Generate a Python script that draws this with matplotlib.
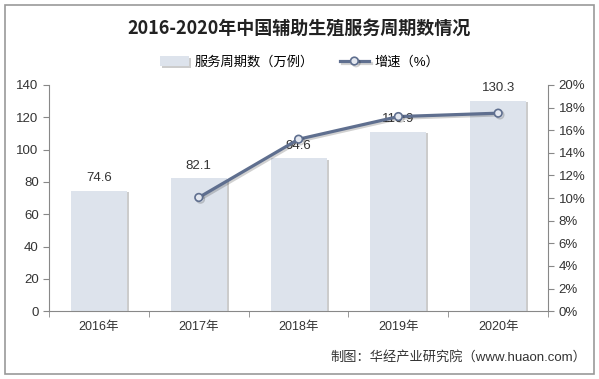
import numpy as np
import matplotlib
matplotlib.use('Agg')
import matplotlib.pyplot as plt
import matplotlib.patheffects as pe
from matplotlib.patches import Rectangle

plt.rcParams['font.family'] = ['Liberation Sans', 'Noto Sans CJK SC', 'DejaVu Sans']

years = ['2016年', '2017年', '2018年', '2019年', '2020年']
cycles = [74.6, 82.1, 94.6, 110.9, 130.3]
growth_years = ['2017年', '2018年', '2019年', '2020年']
growth = [10.05, 15.2, 17.2, 17.5]

bar_color = '#dde3ec'
line_color = '#5f6f8f'
axis_color = '#888888'

fig = plt.figure(figsize=(5.99, 3.79), dpi=100)
fig.patches.append(Rectangle((0.009, 0.013), 0.982, 0.974, transform=fig.transFigure,
                             fill=False, edgecolor='#999999', linewidth=1.2))

ax = fig.add_axes([0.082, 0.179, 0.833, 0.597])
x = np.arange(len(years))
bars = ax.bar(x, cycles, width=0.56, color=bar_color, zorder=2,
              path_effects=[pe.SimplePatchShadow(offset=(1.5, -1), shadow_rgbFace='#9a9a9a', alpha=0.5), pe.Normal()],
              label='服务周期数（万例）')
for xi, v in zip(x, cycles):
    ax.text(xi, v + 4, f'{v}', ha='center', va='bottom', fontsize=9.5, color='#333333', zorder=5)

ax.set_xlim(-0.5, len(years) - 0.5)
ax.set_ylim(0, 140)
ax.set_yticks(range(0, 141, 20))
ax.set_xticks(x)
ax.set_xticklabels(years, fontsize=9, color='#333333')
ax.set_xticks(np.arange(-0.5, len(years)), minor=True)
ax.tick_params(axis='x', which='major', length=0, pad=7)
ax.tick_params(axis='x', which='minor', length=4, color=axis_color)
ax.tick_params(axis='y', length=4, color=axis_color, labelsize=9.5, labelcolor='#333333')
for s in ['top', 'right']:
    ax.spines[s].set_visible(False)
for s in ['left', 'bottom']:
    ax.spines[s].set_color(axis_color)

ax2 = ax.twinx()
gx = [years.index(y) for y in growth_years]
ax2.plot(gx, growth, color=line_color, linewidth=2.3, marker='o', markersize=5.5,
         markerfacecolor='#e4e8f0', markeredgecolor=line_color, markeredgewidth=1.2, zorder=4,
         path_effects=[pe.SimpleLineShadow(offset=(1.2, -1.2), alpha=0.18), pe.Normal()],
         label='增速（%）')
ax2.set_ylim(0, 20)
ax2.set_yticks(range(0, 21, 2))
ax2.set_yticklabels([f'{v}%' for v in range(0, 21, 2)])
ax2.tick_params(axis='y', length=4, color=axis_color, labelsize=9.5, labelcolor='#333333')
for s in ['top', 'left', 'bottom']:
    ax2.spines[s].set_visible(False)
ax2.spines['right'].set_color(axis_color)

fig.text(0.5, 0.925, '2016-2020年中国辅助生殖服务周期数情况', ha='center', va='center',
         fontsize=13, fontweight='bold', color='#222222', family=['Noto Sans CJK SC'])

h1, l1 = ax.get_legend_handles_labels()
h2, l2 = ax2.get_legend_handles_labels()
fig.legend(h1 + h2, l1 + l2, loc='center', bbox_to_anchor=(0.5, 0.835), ncol=2, frameon=False,
           fontsize=9.5, handlelength=2.2, handleheight=0.8, columnspacing=2.0, handletextpad=0.4)

fig.text(0.978, 0.058, '制图：华经产业研究院（www.huaon.com）', ha='right', va='center',
         fontsize=9.5, color='#333333')

fig.savefig('out.png', dpi=100)
